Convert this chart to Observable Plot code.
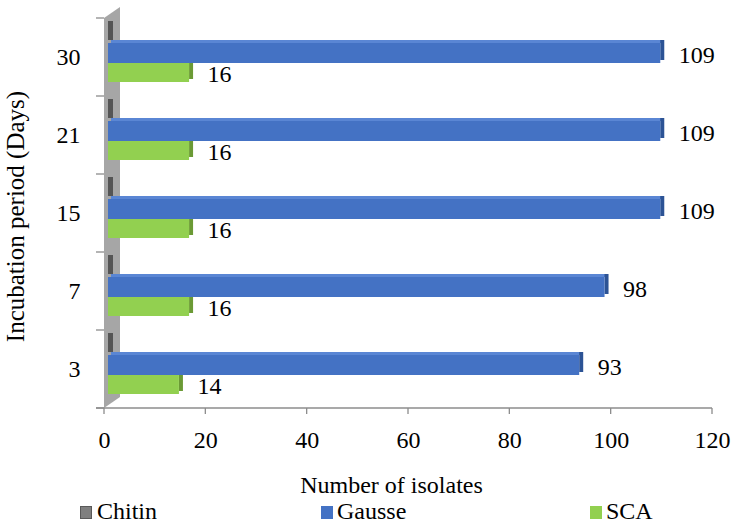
<!DOCTYPE html>
<html><head><meta charset="utf-8">
<script src="https://cdn.jsdelivr.net/npm/d3@7"></script>
<script src="https://cdn.jsdelivr.net/npm/@observablehq/plot@0.6"></script>
<style>
body{margin:0;background:#fff;font-family:"Liberation Serif","Times New Roman",Times,"DejaVu Serif",serif;}
#legend{position:relative;width:735px;height:23px;}
.item{position:absolute;top:1px;font-size:24px;line-height:21px;white-space:nowrap;color:#000;}
.sw{position:absolute;top:6px;width:12px;height:13px;box-sizing:border-box;}
svg text{font-family:"Liberation Serif","Times New Roman",Times,"DejaVu Serif",serif;}
</style></head><body><div id="chart"></div><div id="legend"></div>
<script>
// ---- data ----
const days = ["30", "21", "15", "7", "3"];          // top to bottom
const seriesNames = ["Chitin", "Gausse", "SCA"];
const chitin = [0, 0, 0, 0, 0];
const gausse = [109, 109, 109, 98, 93];
const sca = [16, 16, 16, 16, 14];
const xTicks = [0, 20, 40, 60, 80, 100, 120];
const xTitle = "Number of isolates";
const yTitle = "Incubation period (Days)";

const rows = days.map((d, i) => ({day: d, Chitin: chitin[i], Gausse: gausse[i], SCA: sca[i]}));

const W = 735, H = 500, mL = 104, mR = 23, mT = 18, mB = 92;
const band = (H - mT - mB) / days.length;
const FONT = "'Liberation Serif', 'Times New Roman', Times, 'DejaVu Serif', serif";

// colours: front, top, side
const style = {
  Chitin: {front: "#7f7f7f", top: "#8c8c8c", side: "#555555", it: 6, ib: 53, sw: 5},
  Gausse: {front: "#4472c4", top: "#5a86d4", side: "#2c5395", it: 25, ib: 33, sw: 4},
  SCA:    {front: "#92d050", top: "#a9de74", side: "#6b9a35", it: 45, ib: 14, sw: 4}
};

function bars3d(key) {
  const s = style[key];
  return [
    Plot.barX(rows, {y: "day", x1: () => 0, x2: key, dx: 7, dy: -3,
      insetTop: s.it, insetBottom: band - s.it - 3, fill: s.top}),
    Plot.barX(rows, {y: "day", x1: key, x2: key, dx: 4, dy: -3,
      insetTop: s.it, insetBottom: s.ib, insetLeft: 0, insetRight: -s.sw, fill: s.side}),
    Plot.barX(rows, {y: "day", x1: () => 0, x2: key, dx: 4,
      insetTop: s.it, insetBottom: s.ib, fill: s.front})
  ];
}

function decor(index, scales, values, dims) {
  const x = scales.x, y = scales.y;
  const g = d3.create("svg:g");
  const x0 = x(0), top = dims.marginTop, bot = dims.height - dims.marginBottom;
  const right = dims.width - dims.marginRight;
  g.append("polygon")
    .attr("points", [[x0, bot], [x0, top], [x0 + 16, top - 11], [x0 + 16, bot - 11]].map(p => p.join(",")).join(" "))
    .attr("fill", "#a6a6a6");
  const bw = y.bandwidth ? y.bandwidth() : band;
  const bounds = days.map(d => y(d)).concat([y(days[days.length - 1]) + bw]);
  bounds.forEach(b => g.append("line").attr("x1", x0 - 8).attr("x2", x0).attr("y1", b).attr("y2", b)
    .attr("stroke", "#8c8c8c").attr("stroke-width", 1.3));
  g.append("line").attr("x1", x0 - 8).attr("x2", right).attr("y1", bot).attr("y2", bot)
    .attr("stroke", "#8c8c8c").attr("stroke-width", 1.5);
  xTicks.forEach(t => g.append("line").attr("x1", x(t)).attr("x2", x(t)).attr("y1", bot).attr("y2", bot + 6)
    .attr("stroke", "#8c8c8c").attr("stroke-width", 1.3));
  return g.node();
}

const plot = Plot.plot({
  width: W, height: H,
  marginLeft: mL, marginRight: mR, marginTop: mT, marginBottom: mB,
  style: {fontFamily: FONT, fontSize: "24px", color: "#000", background: "#fff"},
  x: {domain: [0, 120], ticks: xTicks, tickSize: 0, tickPadding: 22, label: null},
  y: {domain: days, padding: 0, tickSize: 0, tickPadding: 24, label: null},
  marks: [
    decor,
    ...bars3d("SCA"),
    ...bars3d("Gausse"),
    ...bars3d("Chitin"),
    Plot.text(rows, {y: "day", x: "Gausse", text: d => String(d.Gausse), dx: 22, dy: -2,
      textAnchor: "start", fontSize: 24, fill: "#000"}),
    Plot.text(rows, {y: "day", x: "SCA", text: d => String(d.SCA), dx: 22, dy: 17,
      textAnchor: "start", fontSize: 24, fill: "#000"}),
    Plot.text([xTitle], {text: d => d, frameAnchor: "bottom", textAnchor: "middle", lineAnchor: "middle",
      dx: -17, dy: 77, fontSize: 24, fill: "#000"}),
    Plot.text([yTitle], {text: d => d, frameAnchor: "left", textAnchor: "middle", lineAnchor: "middle",
      dx: -89, dy: 3, rotate: -90, fontSize: 25, fill: "#000"})
  ]
});
document.getElementById("chart").appendChild(plot);

// legend
const legendPos = {Chitin: [80, 97], Gausse: [321, 337], SCA: [590, 606]};
const legend = document.getElementById("legend");
seriesNames.forEach(n => {
  const sq = document.createElement("div");
  sq.className = "sw";
  sq.style.left = legendPos[n][0] + "px";
  sq.style.background = style[n].front;
  if (n === "Chitin") sq.style.border = "1px solid #595959";
  legend.appendChild(sq);
  const t = document.createElement("div");
  t.className = "item";
  t.style.left = legendPos[n][1] + "px";
  t.textContent = n;
  legend.appendChild(t);
});
</script></body></html>
